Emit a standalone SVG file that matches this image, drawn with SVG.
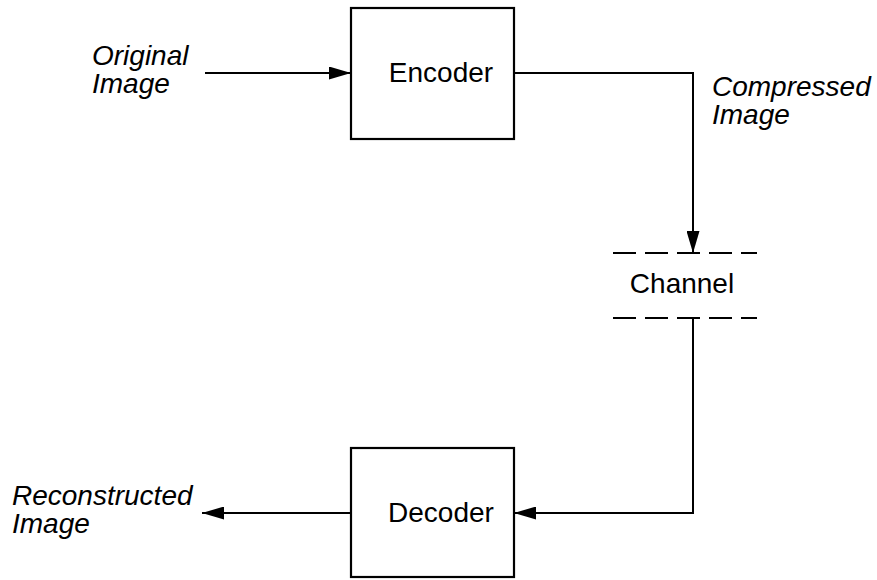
<svg xmlns="http://www.w3.org/2000/svg" width="877" height="580" viewBox="0 0 877 580">
<style>
.box{fill:#fff;stroke:#000;stroke-width:2.2}
.ln{fill:none;stroke:#000;stroke-width:2}
.dash{fill:none;stroke:#000;stroke-width:2;stroke-dasharray:23 9}
.t{font-family:"Liberation Sans",Arial,sans-serif;font-size:28px;fill:#000}
.ti{font-family:"Liberation Sans",Arial,sans-serif;font-size:28px;font-style:italic;fill:#000}
</style>
<defs>
<marker id="ah" markerWidth="22" markerHeight="13" refX="22" refY="6.5" orient="auto" markerUnits="userSpaceOnUse">
<path d="M0,0 L22,6.5 L0,13 Z" fill="#000"/>
</marker>
</defs>
<g id="connectors">
<line class="ln" x1="205" y1="73" x2="351" y2="73" marker-end="url(#ah)"/>
<polyline class="ln" points="514,73 693,73 693,253" marker-end="url(#ah)"/>
<polyline class="ln" points="693,318 693,513 514,513" marker-end="url(#ah)"/>
<line class="ln" x1="351" y1="513" x2="202" y2="513" marker-end="url(#ah)"/>
</g>
<g id="encoder">
<rect class="box" x="351" y="8" width="163" height="131"/>
<text class="t" x="441" y="82" text-anchor="middle">Encoder</text>
</g>
<g id="channel">
<line class="dash" x1="613" y1="253" x2="757" y2="253"/>
<line class="dash" x1="613" y1="318" x2="757" y2="318"/>
<text class="t" x="682" y="293" text-anchor="middle">Channel</text>
</g>
<g id="decoder">
<rect class="box" x="351" y="448" width="163" height="129"/>
<text class="t" x="441" y="522" text-anchor="middle">Decoder</text>
</g>
<g id="original-label">
<text class="ti" x="92" y="65">Original</text>
<text class="ti" x="92" y="93">Image</text>
</g>
<g id="compressed-label">
<text class="ti" x="712" y="96">Compressed</text>
<text class="ti" x="712" y="124">Image</text>
</g>
<g id="reconstructed-label">
<text class="ti" x="12" y="505">Reconstructed</text>
<text class="ti" x="12" y="533">Image</text>
</g>
</svg>
